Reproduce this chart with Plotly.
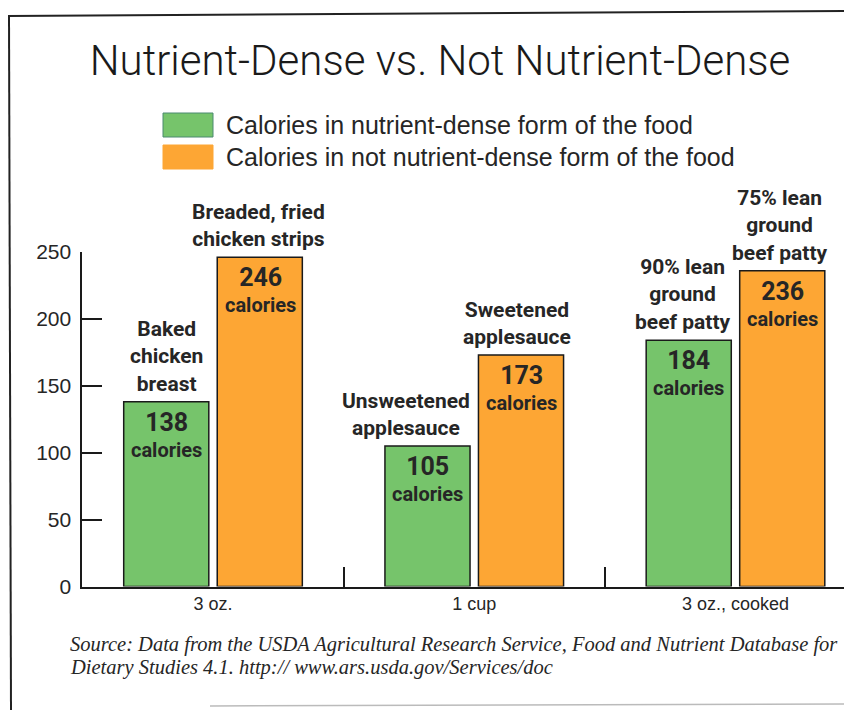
import plotly.graph_objects as go

# page body has an 8px margin, so the figure is sized to the visible area
OFF = 8
W, H = 852 - OFF, 710 - OFF

title = "Nutrient-Dense vs. Not Nutrient-Dense"
portions = ["3 oz.", "1 cup", "3 oz., cooked"]
series_names = [
    "Calories in nutrient-dense form of the food",
    "Calories in not nutrient-dense form of the food",
]
dense_cal = [138, 105, 184]
not_dense_cal = [246, 173, 236]
dense_foods = ["Baked<br>chicken<br>breast", "Unsweetened<br>applesauce", "90% lean<br>ground<br>beef patty"]
not_dense_foods = ["Breaded, fried<br>chicken strips", "Sweetened<br>applesauce", "75% lean<br>ground<br>beef patty"]
source_lines = [
    "Source: Data from the USDA Agricultural Research Service, Food and Nutrient Database for",
    "Dietary Studies 4.1. http:// www.ars.usda.gov/Services/doc",
]

GREEN = "#76c46b"
ORANGE = "#fda634"
DARK = "#262626"
LBL_FONT = "Roboto, Arial, sans-serif"
SANS = "Liberation Sans, Arial, sans-serif"


def px(x):
    return (x - OFF) / W


def py(y):
    return 1 - (y - OFF) / H


fig = go.Figure()
for vals, col, name in [(dense_cal, GREEN, series_names[0]), (not_dense_cal, ORANGE, series_names[1])]:
    fig.add_trace(go.Bar(
        x=portions, y=vals, name=name, marker=dict(color=col, line=dict(color="#1a1a1a", width=1.5)),
        showlegend=False, hoverinfo="y",
    ))

# labels in and above bars (nudges keep the wide labels apart)
nudge = [[0, -21, -6], [-2, -4, -3]]
for k, (vals, foods, xs) in enumerate([(dense_cal, dense_foods, -47), (not_dense_cal, not_dense_foods, 47)]):
    for i, (v, f) in enumerate(zip(vals, foods)):
        fig.add_annotation(
            x=portions[i], y=v, xref="x", yref="y", xshift=xs, yshift=-4, yanchor="top",
            text=f"<b><span style='font-size:25px'>{v}</span><br>calories</b>",
            showarrow=False, font=dict(family=LBL_FONT, size=20, color=DARK),
        )
        fig.add_annotation(
            x=portions[i], y=v, xref="x", yref="y", xshift=xs + nudge[k][i], yshift=4, yanchor="bottom",
            text=f"<b>{f}</b>", showarrow=False, font=dict(family=LBL_FONT, size=21, color=DARK),
        )

# legend drawn by hand for the large swatches
for j, col in enumerate([GREEN, ORANGE]):
    y0 = 113 + j * 32
    fig.add_shape(type="rect", xref="paper", yref="paper", x0=px(163), x1=px(213), y0=py(y0), y1=py(y0 + 24),
                  fillcolor=col, line=dict(color="#4a8a70" if j == 0 else ORANGE, width=1))
    fig.add_annotation(xref="paper", yref="paper", x=px(224), y=py(y0 + 12), xanchor="left", yanchor="middle",
                       text=series_names[j], showarrow=False, font=dict(family=SANS, size=25, color=DARK))

# page frame
fig.add_shape(type="line", xref="paper", yref="paper", x0=px(8), y0=py(16), x1=px(852), y1=py(11),
              line=dict(color="#222", width=2))
fig.add_shape(type="line", xref="paper", yref="paper", x0=px(9), y0=py(15), x1=px(11), y1=py(710),
              line=dict(color="#222", width=2))
fig.add_shape(type="line", xref="paper", yref="paper", x0=px(210), y0=py(706), x1=px(852), y1=py(704),
              line=dict(color="#bbb", width=1.5))

for j, line in enumerate(source_lines):
    fig.add_annotation(xref="paper", yref="paper", x=px(68), y=py(644 + j * 23), xanchor="left", yanchor="middle",
                       text=f"<i>{line}</i>", showarrow=False,
                       font=dict(family="Liberation Serif, DejaVu Serif, serif", size=20.5, color=DARK))

fig.update_layout(
    width=W, height=H,
    margin=dict(l=0, r=0, t=0, b=0),
    paper_bgcolor="white", plot_bgcolor="white",
    title=dict(text=title, x=px(440), xanchor="center", y=py(60), yanchor="middle",
               font=dict(family="Roboto, Arial, sans-serif", size=42, weight=300, color="#1a1a1a")),
    barmode="group", bargap=0.284, bargroupgap=0.09,
    xaxis=dict(domain=[px(82.4), 1.0], range=[-0.5, 2.446], showline=True, linecolor="#1a1a1a", linewidth=2,
               ticks="inside", tickson="boundaries", ticklen=20, tickwidth=2, tickcolor="#1a1a1a",
               tickfont=dict(family=SANS, size=18, color=DARK),
               showgrid=False, automargin=False, fixedrange=True),
    yaxis=dict(domain=[py(586.5), py(252)], range=[0, 250], showline=True, linecolor="#1a1a1a", linewidth=2,
               ticks="inside", ticklen=20, tickwidth=2, tickcolor="#1a1a1a", dtick=50, ticklabelstandoff=5,
               tickfont=dict(family=SANS, size=21, color=DARK),
               showgrid=False, zeroline=False, automargin=False, fixedrange=True),
)

fig.write_html("out.html")
